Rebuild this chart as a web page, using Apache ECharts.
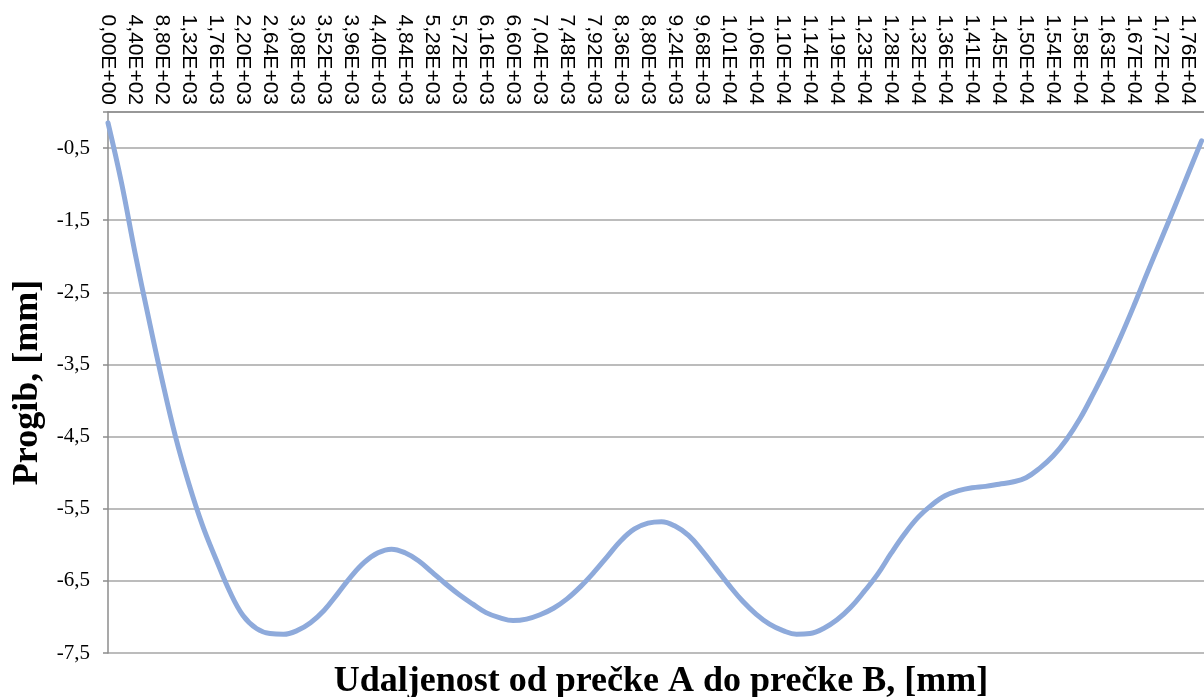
<!DOCTYPE html>
<html>
<head>
<meta charset="utf-8">
<title>Progib</title>
<script src="https://cdn.jsdelivr.net/npm/echarts@6/dist/echarts.min.js"></script>
<style>
  html, body { margin: 0; padding: 0; background: #fff; }
  #chart { width: 1204px; height: 697px; }
</style>
</head>
<body>
<div id="chart"></div>
<script>
// Distance from crossbar A, in mm (sampled every 220 mm)
const distance = [
  0, 220, 440, 660, 880, 1100, 1320, 1540, 1760, 1980,
  2200, 2420, 2640, 2860, 3080, 3300, 3520, 3740, 3960, 4180,
  4400, 4620, 4840, 5060, 5280, 5500, 5720, 5940, 6160, 6380,
  6600, 6820, 7040, 7260, 7480, 7700, 7920, 8140, 8360, 8580,
  8800, 9020, 9240, 9460, 9680, 9900, 10120, 10340, 10560, 10780,
  11000, 11220, 11440, 11660, 11880, 12100, 12320, 12540, 12760, 12980,
  13200, 13420, 13640, 13860, 14080, 14300, 14520, 14740, 14960, 15180,
  15400, 15620, 15840, 16060, 16280, 16500, 16720, 16940, 17160, 17380,
  17600, 17820
];

// Deflection, in mm
const deflection = [
  -0.15, -0.98, -1.95, -2.85, -3.71, -4.50, -5.16, -5.73, -6.20, -6.64,
  -6.98, -7.16, -7.23, -7.24, -7.19, -7.08, -6.91, -6.68, -6.44, -6.24,
  -6.11, -6.06, -6.11, -6.22, -6.38, -6.54, -6.69, -6.82, -6.94, -7.01,
  -7.05, -7.03, -6.97, -6.88, -6.75, -6.58, -6.38, -6.16, -5.94, -5.78,
  -5.70, -5.68, -5.74, -5.87, -6.08, -6.32, -6.56, -6.78, -6.96, -7.10,
  -7.19, -7.24, -7.23, -7.16, -7.04, -6.87, -6.65, -6.41, -6.12, -5.85,
  -5.62, -5.45, -5.32, -5.25, -5.21, -5.19, -5.16, -5.13, -5.07, -4.94,
  -4.77, -4.54, -4.25, -3.90, -3.53, -3.12, -2.68, -2.22, -1.77, -1.32,
  -0.86, -0.40
];

// Labels along the distance axis, one every 440 mm
const distanceTicks = [
  '0,00E+00', '4,40E+02', '8,80E+02', '1,32E+03', '1,76E+03', '2,20E+03',
  '2,64E+03', '3,08E+03', '3,52E+03', '3,96E+03', '4,40E+03', '4,84E+03',
  '5,28E+03', '5,72E+03', '6,16E+03', '6,60E+03', '7,04E+03', '7,48E+03',
  '7,92E+03', '8,36E+03', '8,80E+03', '9,24E+03', '9,68E+03', '1,01E+04',
  '1,06E+04', '1,10E+04', '1,14E+04', '1,19E+04', '1,23E+04', '1,28E+04',
  '1,32E+04', '1,36E+04', '1,41E+04', '1,45E+04', '1,50E+04', '1,54E+04',
  '1,58E+04', '1,63E+04', '1,67E+04', '1,72E+04', '1,76E+04'
];
const tickStep = 440;

const xTitle = 'Udaljenost od prečke A do prečke B, [mm]';
const yTitle = 'Progib, [mm]';

const chart = echarts.init(document.getElementById('chart'), null, { renderer: 'canvas' });

const gridColor = '#a6a6a6';
const axisColor = '#8c8c8c';

chart.setOption({
  animation: false,
  backgroundColor: '#ffffff',
  grid: { left: 108, top: 112, right: 0, bottom: 44, containLabel: false },
  title: {
    text: xTitle,
    left: 656,
    top: 659,
    textAlign: 'center',
    textStyle: {
      fontFamily: 'Liberation Serif',
      fontWeight: 'bold',
      fontSize: 36,
      color: '#000'
    }
  },
  xAxis: {
    type: 'value',
    position: 'top',
    min: 0,
    max: 17860,
    interval: tickStep,
    axisLine: { show: true, onZero: false, lineStyle: { color: axisColor, width: 1.5 } },
    axisTick: { show: false },
    splitLine: { show: false },
    axisLabel: {
      rotate: 90,
      margin: 7,
      fontFamily: 'Liberation Sans',
      fontSize: 21,
      color: '#000',
      showMaxLabel: true,
      formatter: function (v) {
        const i = v / tickStep;
        return Number.isInteger(i) && distanceTicks[i] ? distanceTicks[i] : '';
      }
    }
  },
  yAxis: {
    type: 'value',
    min: -7.5,
    max: 0,
    interval: 1,
    name: yTitle,
    nameLocation: 'middle',
    nameGap: 61,
    nameRotate: 90,
    nameTextStyle: {
      fontFamily: 'Liberation Serif',
      fontWeight: 'bold',
      fontSize: 36,
      color: '#000'
    },
    axisLine: { show: true, onZero: false, lineStyle: { color: axisColor, width: 1.5 } },
    axisTick: { show: true, length: 5, inside: false, lineStyle: { color: axisColor, width: 1.5 } },
    splitLine: { show: true, lineStyle: { color: gridColor, width: 1.5 } },
    axisLabel: {
      margin: 18,
      fontFamily: 'Liberation Serif',
      fontSize: 21,
      color: '#000',
      formatter: function (v) {
        if (Math.abs(v) < 1e-9) return '';
        return v.toFixed(1).replace('.', ',');
      }
    }
  },
  series: [{
    type: 'line',
    data: distance.map((d, i) => [d, deflection[i]]),
    smooth: 0.4,
    showSymbol: false,
    lineStyle: { color: '#8eaadb', width: 5, cap: 'round', join: 'round' },
    clip: true
  }]
});
</script>
</body>
</html>
